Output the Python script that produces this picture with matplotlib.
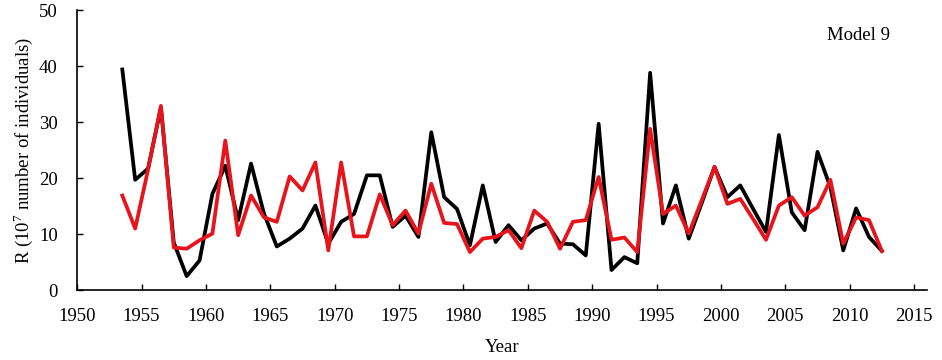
import numpy as np
import matplotlib
matplotlib.use("Agg")
import matplotlib.pyplot as plt

plt.rcParams["font.family"] = ["Liberation Serif", "DejaVu Serif"]
plt.rcParams["mathtext.fontset"] = "custom"
plt.rcParams["mathtext.rm"] = "Liberation Serif"

years = np.arange(1953, 2013)

observed = [
    39.4, 19.7, 21.7, 32.6, 8.5, 2.5, 5.3, 17.2, 22.2, 12.5,
    22.6, 13.7, 7.8, 9.2, 11.0, 15.1, 8.3, 12.2, 13.6, 20.5,
    20.5, 11.3, 13.3, 9.5, 28.2, 16.6, 14.5, 8.0, 18.7, 8.6,
    11.6, 8.9, 11.0, 11.9, 8.3, 8.2, 6.2, 29.7, 3.6, 5.9,
    4.8, 38.8, 11.9, 18.7, 9.2, 15.5, 22.0, 16.6, 18.7, 14.5,
    10.4, 27.7, 13.9, 10.7, 24.7, 18.4, 7.1, 14.6, 9.5, 7.0,
]

model9 = [
    16.9, 11.0, 21.5, 32.9, 7.6, 7.4, 8.9, 10.1, 26.7, 9.8,
    16.9, 13.0, 12.2, 20.3, 17.8, 22.8, 7.1, 22.8, 9.6, 9.6,
    17.1, 11.6, 14.2, 10.1, 19.0, 12.0, 11.8, 6.8, 9.2, 9.5,
    10.7, 7.5, 14.2, 12.2, 7.4, 12.2, 12.5, 20.2, 9.0, 9.4,
    6.8, 28.8, 13.6, 15.1, 10.1, 16.0, 22.0, 15.4, 16.3, 12.7,
    9.0, 15.1, 16.6, 13.3, 14.8, 19.7, 8.3, 13.0, 12.5, 7.0,
]

fig = plt.figure(figsize=(9.42, 3.6), dpi=100)
ax = fig.add_axes([0.082, 0.194, 0.902, 0.778])

# points sit mid-year, as in the source chart
x = years + 0.5
ax.plot(x, observed, color="black", linewidth=2.7, zorder=2)
ax.plot(x, model9, color="#e8141c", linewidth=2.7, zorder=3)

ax.set_xlim(1950, 2016)
ax.set_ylim(0, 50)
ax.set_xticks(np.arange(1950, 2016, 5))
ax.set_yticks(np.arange(0, 51, 10))
ax.tick_params(direction="in", length=4, width=1, labelsize=13.5)
ax.tick_params(axis="x", pad=13)
ax.tick_params(axis="y", pad=14)
for side in ["top", "right"]:
    ax.spines[side].set_visible(False)
for side in ["left", "bottom"]:
    ax.spines[side].set_linewidth(1.2)

ax.set_xlabel("Year", fontsize=13.5, labelpad=10)
ax.set_ylabel(r"R (10$^{7}$ number of individuals)", fontsize=13.5, labelpad=3)
ax.text(0.919, 0.91, "Model 9", transform=ax.transAxes, ha="center",
        va="center", fontsize=13.5)

fig.savefig("out.png", dpi=100)
